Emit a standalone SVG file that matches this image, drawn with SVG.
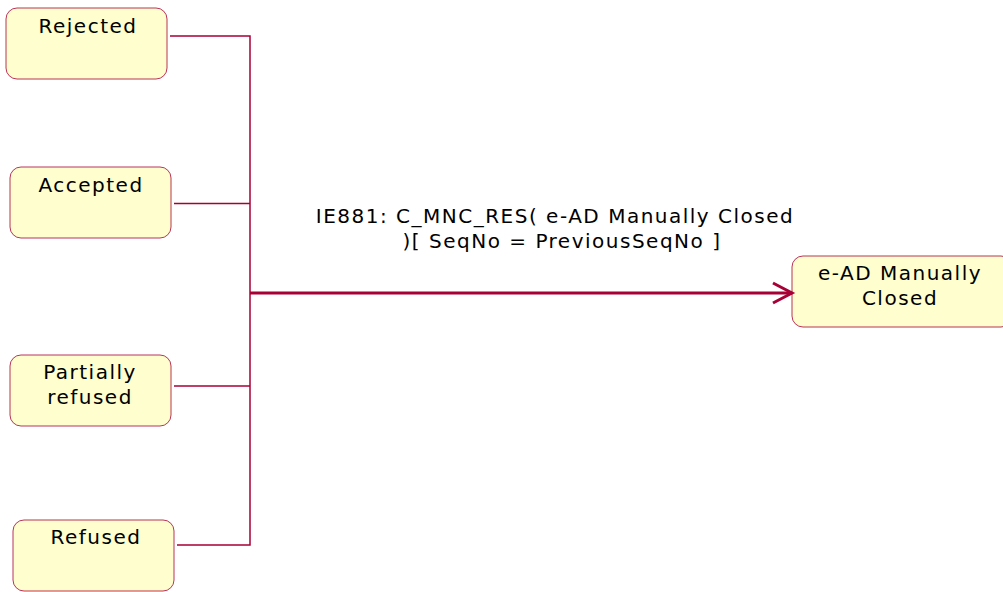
<svg xmlns="http://www.w3.org/2000/svg" width="1003" height="592" viewBox="0 0 1003 592">
<style>
.node rect{fill:#FEFECE;stroke:#A80036;stroke-width:0.8}
text{font-family:"DejaVu Sans","Liberation Sans",sans-serif;font-size:20px;fill:#000;text-anchor:middle;letter-spacing:1.5px}
.conn path{fill:none;stroke:#A80036;stroke-width:1.5}
.conn .main{stroke-width:3}
</style>
<rect width="1003" height="592" fill="#fff"/>
<g id="rejected" class="node"><rect x="6" y="8" width="161" height="71" rx="11"/><text x="88" y="33">Rejected</text></g>
<g id="accepted" class="node"><rect x="10" y="167" width="161" height="71" rx="11"/><text x="91" y="192">Accepted</text></g>
<g id="partially" class="node"><rect x="10" y="355" width="161" height="71" rx="11"/><text x="90" y="379">Partially</text><text x="90" y="404">refused</text></g>
<g id="refused" class="node"><rect x="13" y="520" width="161" height="71" rx="11"/><text x="96" y="544">Refused</text></g>
<g id="closed" class="node"><rect x="792" y="256" width="220" height="71" rx="11"/><text x="900" y="280">e-AD Manually</text><text x="900" y="305">Closed</text></g>
<g id="connectors" class="conn">
<path d="M170 36H250V545H177"/>
<path d="M174 203.5H250"/>
<path d="M174 386H250"/>
<path class="main" d="M250 293H792"/>
<path class="main" d="M773 283L792 293L773 303"/>
<text x="555" y="223">IE881: C_MNC_RES( e-AD Manually Closed</text>
<text x="562" y="248">)[ SeqNo = PreviousSeqNo ]</text>
</g>
</svg>
